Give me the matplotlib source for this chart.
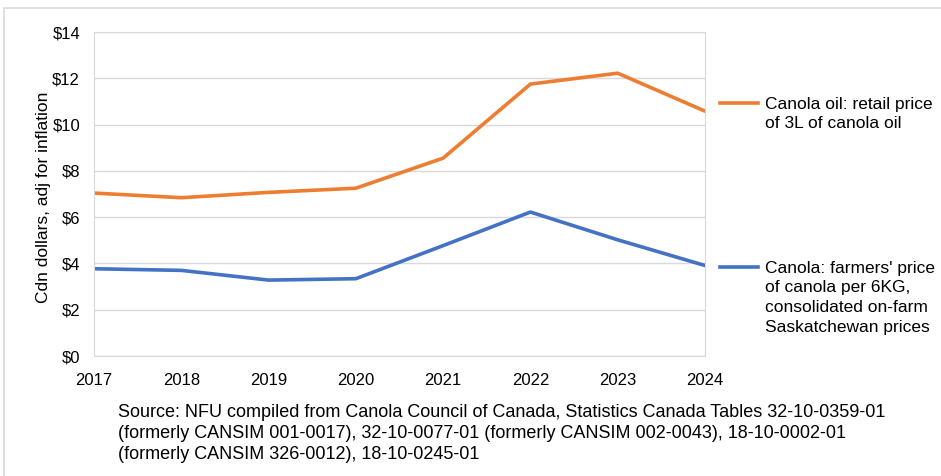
import matplotlib.pyplot as plt
from matplotlib.patches import Rectangle
from matplotlib.ticker import FuncFormatter

plt.rcParams['font.family'] = ['Liberation Sans', 'DejaVu Sans']

years = [2017, 2018, 2019, 2020, 2021, 2022, 2023, 2024]
oil_retail = [7.04, 6.84, 7.07, 7.25, 8.55, 11.75, 12.22, 10.58]
farmer_price = [3.77, 3.70, 3.28, 3.34, 4.77, 6.22, 5.02, 3.91]

oil_label = "Canola oil: retail price\nof 3L of canola oil"
farm_label = "Canola: farmers' price\nof canola per 6KG,\nconsolidated on-farm\nSaskatchewan prices"
source = ("Source: NFU compiled from Canola Council of Canada, Statistics Canada Tables 32-10-0359-01\n"
          "(formerly CANSIM 001-0017), 32-10-0077-01 (formerly CANSIM 002-0043), 18-10-0002-01\n"
          "(formerly CANSIM 326-0012), 18-10-0245-01")

orange = '#ED7D31'
blue = '#4472C4'

fig = plt.figure(figsize=(9.41, 4.76), dpi=100)
ax = fig.add_axes([94 / 941, 1 - 356 / 476, (705 - 94) / 941, (356 - 32) / 476])

# outer frame of the chart area
fig.patches.append(Rectangle((4 / 941, -0.01), 1.0, 1 - 8 / 476 + 0.01, transform=fig.transFigure,
                             fill=False, edgecolor='#d9d9d9', linewidth=1.2))

ax.plot(years, oil_retail, color=orange, linewidth=2.6, solid_joinstyle='round')
ax.plot(years, farmer_price, color=blue, linewidth=2.6, solid_joinstyle='round')

ax.set_xlim(2017, 2024)
ax.set_ylim(0, 14)
ax.set_yticks(range(0, 15, 2))
ax.set_xticks(years)
ax.yaxis.set_major_formatter(FuncFormatter(lambda v, p: f'${int(v)}'))
ax.grid(axis='y', color='#d9d9d9', linewidth=1)
ax.set_axisbelow(True)
for s in ax.spines.values():
    s.set_color('#d9d9d9')
ax.tick_params(length=0, labelsize=12, colors='black')
ax.tick_params(axis='y', pad=10)
ax.tick_params(axis='x', pad=12)
ax.set_ylabel('Cdn dollars, adj for inflation', fontsize=12.5)
ax.yaxis.set_label_coords(-0.071, 0.49)

# legend entries at right
def legend_entry(ypix, color, text):
    yf = 1 - ypix / 476
    fig.add_artist(plt.Line2D([720 / 941, 758 / 941], [yf, yf], color=color, linewidth=2.6,
                              transform=fig.transFigure))
    fig.text(765 / 941, yf + 6.5 / 476, text, fontsize=12.5, va='top', ha='left', linespacing=1.4)

legend_entry(103, orange, oil_label)
legend_entry(267, blue, farm_label)

fig.text(118 / 941, 1 - 404 / 476, source, fontsize=13, va='top', ha='left', linespacing=1.32)

fig.savefig('out.png', dpi=100)
